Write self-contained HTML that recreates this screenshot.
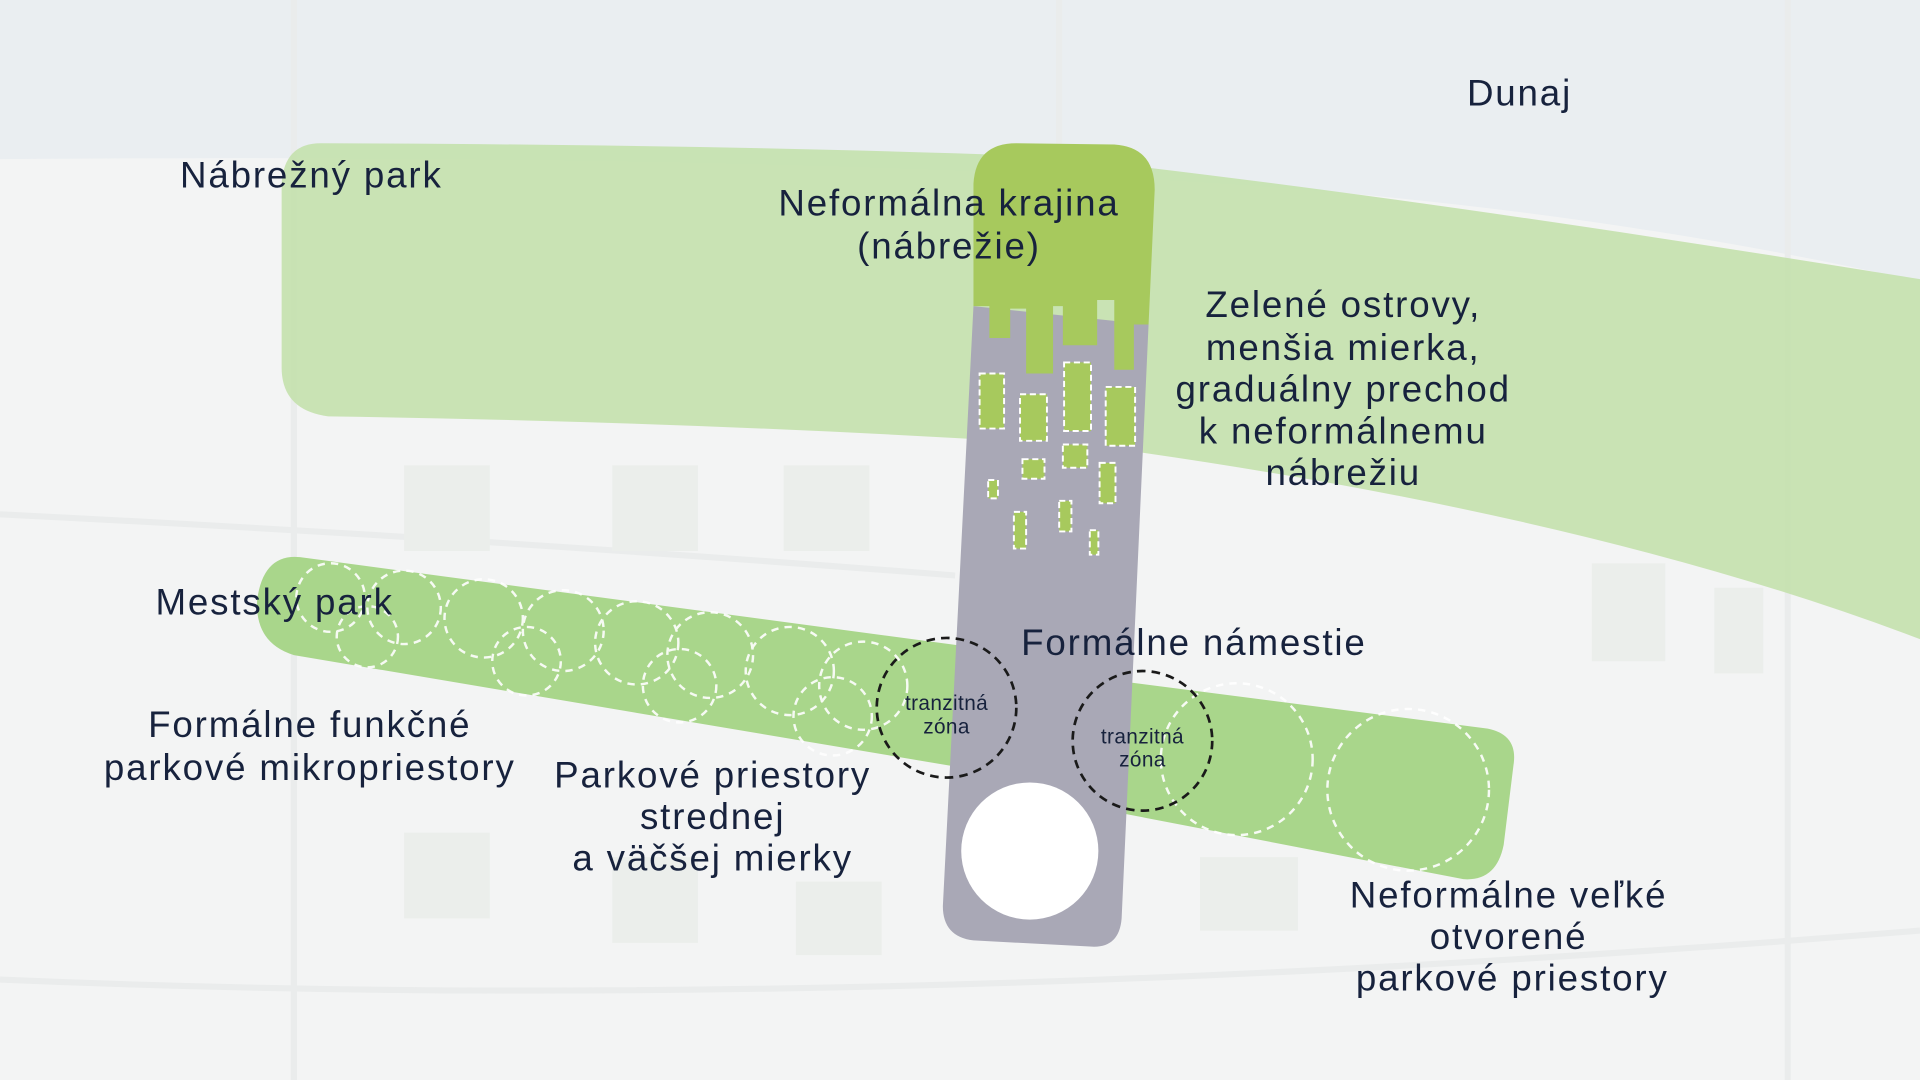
<!DOCTYPE html>
<html><head><meta charset="utf-8"><style>
html,body{margin:0;padding:0;width:1920px;height:1080px;overflow:hidden;background:#f3f4f4}
svg{display:block}
text{font-family:"Liberation Sans",sans-serif;fill:#17223d;font-size:30px;letter-spacing:1.5px}
text.s{font-size:17px;letter-spacing:0.3px}
</style></head><body>
<svg width="1920" height="1080" viewBox="0 0 1568 882" xmlns="http://www.w3.org/2000/svg">
<rect width="1568" height="882" fill="#f3f4f4"/>
<path d="M0 0H1568V230Q1300 170 1000 150Q600 125 0 130Z" fill="#eaeef1"/>
<g fill="none" stroke="#eaecec" stroke-width="5">
<path d="M240 0V882"/><path d="M865 0V120"/><path d="M1460 0V882"/>
<path d="M0 420Q400 440 780 470"/><path d="M0 800Q700 830 1568 760"/>
</g>
<g fill="#ebeeeb">
<rect x="330" y="380" width="70" height="70"/><rect x="500" y="380" width="70" height="70"/><rect x="640" y="380" width="70" height="70"/>
<rect x="330" y="680" width="70" height="70"/><rect x="500" y="700" width="70" height="70"/><rect x="650" y="720" width="70" height="60"/>
<rect x="980" y="700" width="80" height="60"/><rect x="1300" y="460" width="60" height="80"/><rect x="1400" y="480" width="40" height="70"/>
</g>
<path d="M262 117 Q600 118 860 128 Q1150 160 1568 228 V522 Q1300 420 900 365 Q600 345 268 340 Q230 335 230 300 V150 Q232 117 262 117Z" fill="#c4e1ad" opacity="0.9"/>
<path d="M245 455 L790 528 L780 626 L240 535 Q208 525 210 490 Q215 452 245 455Z" fill="#a9d68b"/>
<path d="M905 555 L1215 595 Q1240 600 1236 625 L1228 690 Q1222 720 1195 718 L905 662Z" fill="#a9d68b"/>
<g fill="none" stroke="#ffffff" stroke-width="2" stroke-dasharray="6 5" opacity="0.9">
<circle cx="270" cy="488" r="28"/><circle cx="330" cy="496" r="30"/><circle cx="395" cy="505" r="32"/><circle cx="460" cy="515" r="33"/>
<circle cx="520" cy="525" r="34"/><circle cx="580" cy="535" r="35"/><circle cx="645" cy="548" r="36"/><circle cx="705" cy="560" r="36"/>
<circle cx="300" cy="520" r="25"/><circle cx="430" cy="540" r="28"/><circle cx="555" cy="560" r="30"/><circle cx="680" cy="585" r="32"/>
<circle cx="1010" cy="620" r="62"/><circle cx="1150" cy="645" r="66"/>
</g>
<path d="M795 250 L938 265 L916 750 Q914 775 890 773 L795 768 Q770 765 770 740 Z" fill="#a9a8b6"/>
<circle cx="841" cy="695" r="56" fill="#ffffff"/>
<path d="M795 150 Q797 117 830 117 L910 118 Q943 120 943 155 L938 265 L926 265 L926 302 L910 302 L910 245 L896 245 L896 282 L868 282 L868 250 L860 250 L860 305 L838 305 L838 252 L825 252 L825 276 L808 276 L808 250 L795 250Z" fill="#a7c95d"/>
<g fill="#a7c95d" stroke="#fff" stroke-width="1.6" stroke-dasharray="5 3">
<rect x="800" y="305" width="20" height="45"/><rect x="833" y="322" width="22" height="38"/><rect x="869" y="296" width="22" height="56"/>
<rect x="903" y="316" width="24" height="48"/><rect x="835" y="375" width="18" height="16"/><rect x="868" y="363" width="20" height="19"/>
<rect x="898" y="378" width="13" height="33"/><rect x="807" y="392" width="8" height="15"/><rect x="828" y="418" width="10" height="30"/>
<rect x="865" y="409" width="10" height="25"/><rect x="890" y="433" width="7" height="20"/>
</g>
<g fill="none" stroke="#1a1a1a" stroke-width="2.2" stroke-dasharray="7 5">
<circle cx="773" cy="578" r="57"/><circle cx="933" cy="605" r="57"/>
</g>
<text x="1198" y="86">Dunaj</text>
<text x="147" y="153">Nábrežný park</text>
<g text-anchor="middle">
<text x="775" y="176">Neformálna krajina</text>
<text x="775" y="211">(nábrežie)</text>
<text x="1097" y="259">Zelené ostrovy,</text>
<text x="1097" y="294">menšia mierka,</text>
<text x="1097" y="328">graduálny prechod</text>
<text x="1097" y="362">k neformálnemu</text>
<text x="1097" y="396">nábrežiu</text>
<text x="975" y="535">Formálne námestie</text>
<text x="253" y="602">Formálne funkčné</text>
<text x="253" y="637">parkové mikropriestory</text>
<text x="582" y="643">Parkové priestory</text>
<text x="582" y="677">strednej</text>
<text x="582" y="711">a väčšej mierky</text>
<text x="1232" y="741">Neformálne veľké</text>
<text x="1232" y="775">otvorené</text>
<text x="1235" y="809">parkové priestory</text>
<text class="s" x="773" y="580">tranzitná</text>
<text class="s" x="773" y="599">zóna</text>
<text class="s" x="933" y="607">tranzitná</text>
<text class="s" x="933" y="626">zóna</text>
</g>
<text x="127" y="502">Mestský park</text>
</svg>
</body></html>
